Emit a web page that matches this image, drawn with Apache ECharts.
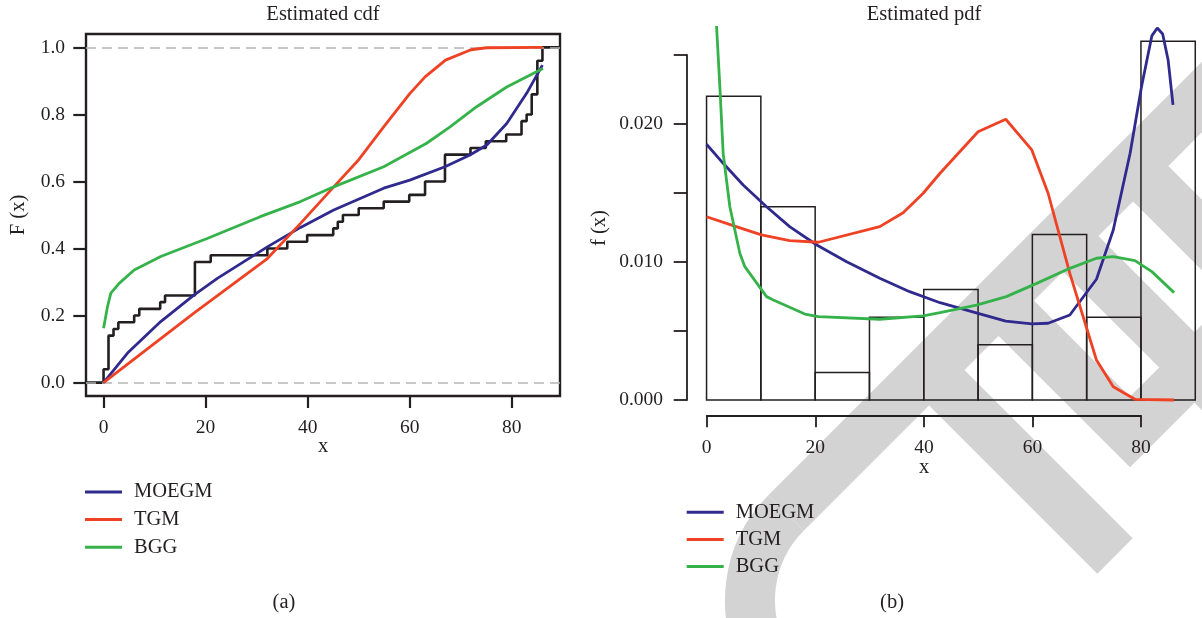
<!DOCTYPE html>
<html>
<head>
<meta charset="utf-8">
<script src="https://cdn.jsdelivr.net/npm/echarts@6.0.0/dist/echarts.min.js"></script>
<style>
html,body{margin:0;padding:0;background:#fff;}
#chart{width:1202px;height:618px;}
</style>
</head>
<body>
<div id="chart"></div>
<script>
// ---------- data ----------
const seriesNames = ['MOEGM', 'TGM', 'BGG'];
const xTicks = [0, 20, 40, 60, 80];
const cdfTicks = [0, 0.2, 0.4, 0.6, 0.8, 1.0];
const pdfTickLabels = [0, 0.01, 0.02];

// empirical cdf (jump positions and levels)
const ecdfX = [0, 0.97, 1.95, 2.9, 6.0, 7.0, 11.1, 12.05, 17.9, 21.0, 32.1, 36.0, 39.9, 45.0, 45.9, 46.9, 50.0, 54.9, 59.9, 63.0, 66.9, 71.9, 74.9, 78.9, 81.9, 82.9, 83.9, 85.0, 86.0];
const ecdfY = [0.04, 0.14, 0.16, 0.18, 0.20, 0.22, 0.24, 0.26, 0.36, 0.38, 0.40, 0.42, 0.44, 0.46, 0.48, 0.50, 0.52, 0.54, 0.56, 0.60, 0.68, 0.70, 0.72, 0.74, 0.78, 0.80, 0.86, 0.96, 1.0];

// fitted cdfs
const moegmCdfX = [0, 4.7, 11.2, 17.7, 22.3, 32.1, 38.6, 45.1, 54.9, 60, 66.9, 71.8, 75.1, 79, 82.9, 86];
const moegmCdfY = [0, 0.088, 0.182, 0.261, 0.311, 0.405, 0.463, 0.515, 0.58, 0.604, 0.644, 0.679, 0.709, 0.773, 0.863, 0.947];
const tgmCdfX = [0, 17.7, 32.1, 38.6, 45.1, 50, 55, 60, 63, 67, 72, 75, 86];
const tgmCdfY = [0, 0.207, 0.37, 0.475, 0.584, 0.665, 0.765, 0.862, 0.912, 0.962, 0.993, 0.999, 1.0];
const bggCdfX = [0, 0.78, 1.43, 3.05, 6.0, 11.2, 20.3, 30.7, 38.6, 45.1, 54.9, 63.3, 67.9, 73.1, 79, 86.1];
const bggCdfY = [0.162, 0.227, 0.267, 0.296, 0.336, 0.376, 0.43, 0.495, 0.54, 0.584, 0.644, 0.714, 0.763, 0.823, 0.882, 0.937];

// histogram (density)
const binEdges = [0, 10, 20, 30, 40, 50, 60, 70, 80, 90];
const binDensity = [0.022, 0.014, 0.002, 0.006, 0.008, 0.004, 0.012, 0.006, 0.026];

// fitted pdfs
const moegmPdfX = [0, 3.06, 6.74, 11.05, 15.3, 20.3, 25.8, 31.9, 37.4, 43, 50, 55.1, 59.9, 62.9, 66.9, 71.8, 74.9, 78, 80.1, 82, 83, 84, 85, 85.9];
const moegmPdfY = [0.01853, 0.01715, 0.01558, 0.0140, 0.01256, 0.01123, 0.01002, 0.00882, 0.00785, 0.00705, 0.00628, 0.00572, 0.00551, 0.00556, 0.00616, 0.00875, 0.01232, 0.01788, 0.0227, 0.02638, 0.02695, 0.02652, 0.02464, 0.02138];
const tgmPdfX = [0, 4.9, 10.1, 15.3, 20.6, 31.9, 36.2, 39.9, 43, 50, 55.1, 59.9, 62.9, 66.9, 71.8, 74.9, 78.9, 86.1];
const tgmPdfY = [0.01328, 0.01263, 0.01196, 0.01155, 0.01143, 0.01256, 0.01357, 0.01498, 0.01643, 0.01944, 0.02034, 0.01812, 0.01498, 0.00918, 0.0029, 0.00096, 0.00005, 0];
const bggPdfX = [1.84, 2.45, 3.06, 4.29, 6.13, 7.05, 11.05, 12.3, 18.1, 20.6, 31.9, 39.9, 43, 49.7, 55.2, 60.8, 66.9, 71.8, 74.9, 78.9, 82, 86.1];
const bggPdfY = [0.0271, 0.0227, 0.01787, 0.0140, 0.01063, 0.00966, 0.00749, 0.00725, 0.00623, 0.00604, 0.00585, 0.00609, 0.00633, 0.00688, 0.00749, 0.00845, 0.00954, 0.01027, 0.01039, 0.0101, 0.0093, 0.00778];

// ---------- styling / layout ----------
const FONT = 'Liberation Serif';
const INK = '#231f20';
const COLORS = ['#302a8e', '#ef4123', '#35b34a'];
const FS = 19.5;
const FS_TXT = 20.5;
const WM = '#d3d3d3';

const xMinL = -3.44, xMaxL = 89.44;
const yMinL = -0.04, yMaxL = 1.04;
const xMinR = -3.6, xMaxR = 91.24;
const yMinR = -0.00104, yMaxR = 0.02704;

const zip = (xs, ys) => xs.map((x, i) => [x, ys[i]]);

const ecdfData = [[xMinL, 0]].concat(zip(ecdfX, ecdfY)).concat([[xMaxL, 1]]);
const histData = binDensity.map((d, i) => [binEdges[i], binEdges[i + 1], d]);

const chart = echarts.init(document.getElementById('chart'), null, {renderer: 'canvas'});

const labelStyle = {fontFamily: FONT, fontSize: FS, color: INK};

const lineSeries = (name, data, xi, yi, color) => ({
  type: 'line', name: name, data: data, xAxisIndex: xi, yAxisIndex: yi,
  symbol: 'none', smooth: false, clip: true, z: 5,
  lineStyle: {color: color, width: 2.8}, itemStyle: {color: color}
});

const txt = (text, x, y, rot, size) => ({
  type: 'text', x: x, y: y, rotation: rot || 0, z: 10,
  style: {text: text, align: 'center', verticalAlign: 'middle', fontFamily: FONT, fontSize: size || FS_TXT, fill: INK}
});

// publisher watermark (decorative background shapes)
const wmBand = (pts, join) => ({type: 'polyline', z: -10, silent: true,
  shape: {points: pts}, style: {stroke: WM, lineWidth: 50, fill: null, lineJoin: join || 'miter', lineCap: 'butt'}});
const watermark = [
  {type: 'arc', z: -10, silent: true, shape: {cx: 873, cy: 600, r: 123, startAngle: 2.6, endAngle: Math.PI * 1.25, clockwise: true},
    style: {stroke: WM, lineWidth: 50, fill: null, lineCap: 'butt'}},
  wmBand([[786, 513], [1133, 166]]),
  wmBand([[1063, 236], [1250, 423]]),
  wmBand([[999, 301], [1130, 432], [1260, 302]]),
  wmBand([[929, 370], [1115, 556]]),
  wmBand([[1260, 39], [1133, 166], [1260, 293]], 'round')
];

const option = {
  animation: false,
  backgroundColor: '#fff',
  grid: [
    {left: 86, top: 34, width: 474, height: 362, show: true, borderColor: INK, borderWidth: 2.4, backgroundColor: 'transparent'},
    {left: 687, top: 26.8, width: 515, height: 387.55},
    {left: 687, top: 55, height: 345, width: 100},
    {left: 706.7, top: 405.7, width: 434.4, height: 10}
  ],
  xAxis: [
    {gridIndex: 0, type: 'value', min: xMinL, max: xMaxL,
      axisLine: {show: false, onZero: false}, splitLine: {show: false},
      axisTick: {show: true, inside: false, length: 12, customValues: xTicks, lineStyle: {color: INK, width: 2.2}},
      axisLabel: Object.assign({show: true, margin: 22, customValues: xTicks, formatter: v => String(v)}, labelStyle)},
    {gridIndex: 1, type: 'value', min: xMinR, max: xMaxR, show: false},
    {gridIndex: 2, type: 'value', min: 0, max: 1, show: false},
    {gridIndex: 3, type: 'value', min: 0, max: 80, interval: 20, position: 'bottom',
      axisLine: {show: true, onZero: false, lineStyle: {color: INK, width: 1.8}}, splitLine: {show: false},
      axisTick: {show: true, inside: false, length: 11.5, lineStyle: {color: INK, width: 1.8}},
      axisLabel: Object.assign({show: true, margin: 22, formatter: v => String(v)}, labelStyle)}
  ],
  yAxis: [
    {gridIndex: 0, type: 'value', min: yMinL, max: yMaxL,
      axisLine: {show: false, onZero: false}, splitLine: {show: false},
      axisTick: {show: true, inside: false, length: 12.7, customValues: cdfTicks, lineStyle: {color: INK, width: 2.2}},
      axisLabel: Object.assign({show: true, margin: 21, customValues: cdfTicks, formatter: v => v.toFixed(1)}, labelStyle)},
    {gridIndex: 1, type: 'value', min: yMinR, max: yMaxR, show: false},
    {gridIndex: 2, type: 'value', min: 0, max: 0.025, interval: 0.005, position: 'left',
      axisLine: {show: true, onZero: false, lineStyle: {color: INK, width: 1.8}}, splitLine: {show: false},
      axisTick: {show: true, inside: false, length: 13.3, lineStyle: {color: INK, width: 1.8}},
      axisLabel: Object.assign({show: true, margin: 24, customValues: pdfTickLabels, formatter: v => v.toFixed(3)}, labelStyle)},
    {gridIndex: 3, type: 'value', min: 0, max: 1, show: false}
  ],
  legend: [
    {left: 85, top: 481.5, padding: 0, orient: 'vertical', data: seriesNames, icon: 'rect', itemWidth: 37, itemHeight: 3,
      itemGap: 6.6, selectedMode: false,
      textStyle: {fontFamily: FONT, fontSize: FS_TXT, color: INK, lineHeight: 20, padding: [0, 0, 0, 7]}},
    {left: 686.7, top: 501.7, padding: 0, orient: 'vertical', data: seriesNames, icon: 'rect', itemWidth: 37, itemHeight: 3,
      itemGap: 6.2, selectedMode: false,
      textStyle: {fontFamily: FONT, fontSize: FS_TXT, color: INK, lineHeight: 20, padding: [0, 0, 0, 7]}}
  ],
  graphic: watermark.concat([
    txt('Estimated cdf', 323, 15),
    txt('Estimated pdf', 924, 15),
    txt('x', 323, 447),
    txt('x', 924, 468),
    txt('F (x)', 19, 215, Math.PI / 2),
    txt('f (x)', 600, 228, Math.PI / 2),
    txt('(a)', 284, 603),
    txt('(b)', 892, 603)
  ]),
  series: [
    {type: 'line', name: 'ECDF', data: ecdfData, xAxisIndex: 0, yAxisIndex: 0, step: 'end',
      symbol: 'none', z: 4, lineStyle: {color: INK, width: 2.6}, itemStyle: {color: INK},
      markLine: {silent: true, symbol: 'none', label: {show: false},
        lineStyle: {color: '#b5b5b5', type: [10, 6], width: 1.5},
        data: [{yAxis: 0}, {yAxis: 1}]}},
    lineSeries('MOEGM', zip(moegmCdfX, moegmCdfY), 0, 0, COLORS[0]),
    lineSeries('TGM', zip(tgmCdfX, tgmCdfY), 0, 0, COLORS[1]),
    lineSeries('BGG', zip(bggCdfX, bggCdfY), 0, 0, COLORS[2]),
    {type: 'custom', name: 'hist', xAxisIndex: 1, yAxisIndex: 1, data: histData, z: 3,
      renderItem: function (params, api) {
        const p0 = api.coord([api.value(0), 0]);
        const p1 = api.coord([api.value(1), api.value(2)]);
        return {type: 'rect', shape: {x: p0[0], y: p1[1], width: p1[0] - p0[0], height: p0[1] - p1[1]},
          style: {fill: 'none', stroke: INK, lineWidth: 1.5}};
      }},
    lineSeries('MOEGM', zip(moegmPdfX, moegmPdfY), 1, 1, COLORS[0]),
    lineSeries('TGM', zip(tgmPdfX, tgmPdfY), 1, 1, COLORS[1]),
    lineSeries('BGG', zip(bggPdfX, bggPdfY), 1, 1, COLORS[2])
  ]
};
chart.setOption(option);
</script>
</body>
</html>
